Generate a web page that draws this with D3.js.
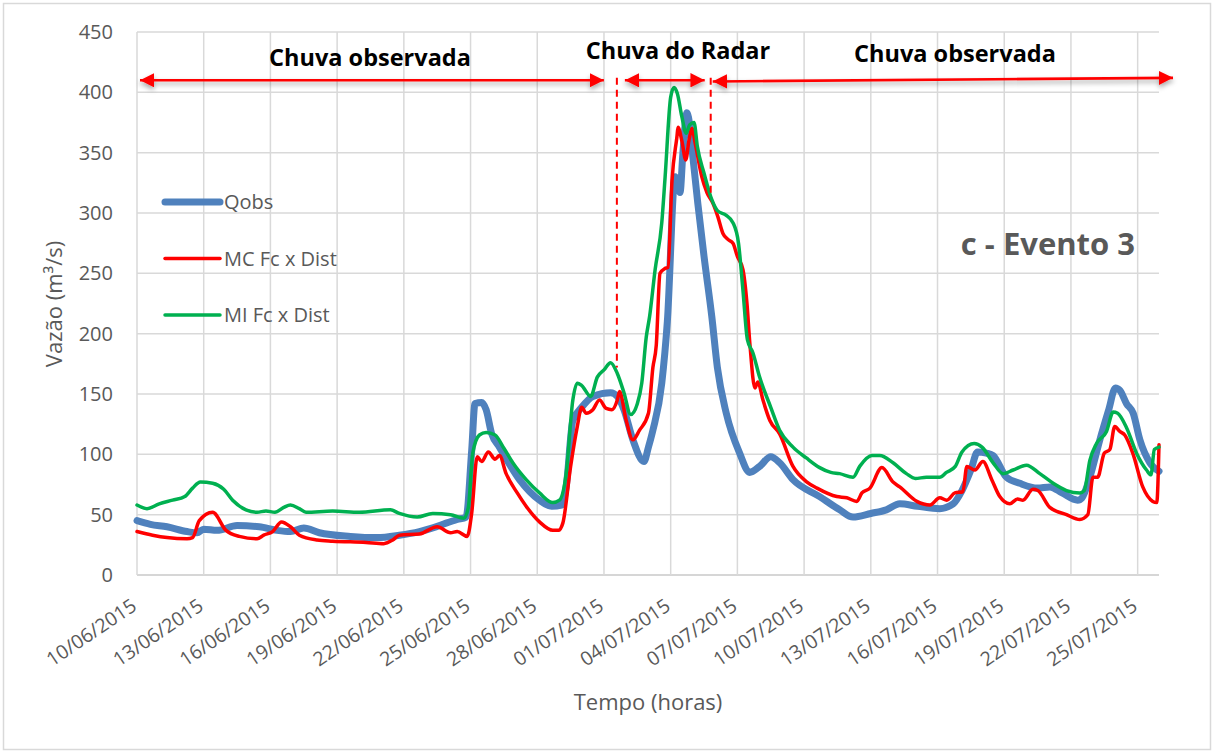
<!DOCTYPE html>
<html lang="pt">
<head>
<meta charset="UTF-8">
<title>Evento 3</title>
<script src="https://d3js.org/d3.v7.min.js"></script>
<style>
  body { margin: 0; background: #fff; }
  svg text { font-family: "Open Sans", sans-serif; }
</style>
</head>
<body>
<div id="chart"></div>
<script>
// dias desde 10/06/2015 00:00, vazão (m3/s)
var qobs = [[0,45],[0.6,42],[1.35,40],[2.25,36],[2.7,35],[3.0,38],[3.6,37],[4.5,41],[5.5,40],[6.3,37],[6.9,36],[7.5,39],[8.2,35],[9.6,32],[10.8,31],[11.8,33],[12.7,36],[13.3,39],[13.9,43],[14.4,46],[14.8,48],[15.05,103],[15.2,142],[15.5,143],[15.7,137],[15.95,117],[16.3,106],[17.2,79],[18.1,62],[18.65,57],[19.1,58],[19.3,73],[19.6,128],[20.0,139],[20.5,148],[21.3,151],[21.6,148],[21.9,137],[22.3,112],[22.8,94],[23.0,106],[23.2,120],[23.6,159],[23.85,210],[24.2,330],[24.42,317],[24.55,350],[24.73,383],[24.87,371],[25.0,346],[25.22,308],[25.5,264],[25.85,214],[26.1,172],[26.5,134],[27.1,101],[27.55,85],[28.0,90],[28.5,98],[28.9,93],[29.5,79],[30.7,65],[31.6,54],[32.2,48],[33.0,51],[33.7,54],[34.3,59],[35.1,57],[36.1,55],[36.7,59],[37.1,70],[37.5,87],[37.8,102],[38.2,101],[38.5,99],[39.1,81],[39.7,76],[40.5,72],[41.05,73],[41.6,68],[42.3,62],[42.5,64],[42.85,81],[43.3,112],[43.7,137],[44.0,155],[44.2,153],[44.5,142],[44.8,134],[45.1,112],[45.55,93],[45.96,86]];

var mcFc = [[0,36],[0.7,33],[1.35,31],[2.25,30],[2.5,31],[2.8,45],[3.4,52],[4.0,37],[4.6,32],[5.4,30],[5.7,33],[6.1,36],[6.5,44],[6.9,40],[7.3,33],[8.1,29],[8.8,28],[10.3,27],[11.1,26],[11.5,29],[11.8,33],[12.7,34],[13.5,40],[14.1,35],[14.4,36],[14.85,32],[15.05,51],[15.3,98],[15.5,94],[15.8,102],[16.1,96],[16.3,99],[16.6,84],[17.1,68],[17.5,57],[18.1,44],[18.7,37],[18.95,37],[19.15,43],[19.5,90],[19.8,123],[20.0,139],[20.2,134],[20.5,137],[20.8,145],[21.1,138],[21.35,137],[21.6,145],[21.7,152],[22.0,128],[22.3,112],[22.6,120],[23.0,134],[23.2,172],[23.35,190],[23.52,250],[23.74,254],[23.88,255],[24.06,327],[24.28,363],[24.33,371],[24.5,360],[24.68,344],[24.82,360],[24.96,370],[25.1,358],[25.4,330],[25.63,317],[25.9,308],[26.12,297],[26.35,283],[26.58,278],[26.8,275],[27.0,264],[27.25,253],[27.43,225],[27.56,192],[27.79,155],[27.92,160],[28.15,145],[28.46,128],[28.9,117],[29.5,90],[30.13,77],[30.58,72],[31.47,65],[31.92,64],[32.37,61],[32.6,68],[32.96,72],[33.5,89],[34.0,77],[34.3,73],[35.07,61],[35.66,58],[36.1,64],[36.42,62],[36.78,68],[37.14,69],[37.32,90],[37.68,87],[38.04,94],[38.44,79],[38.8,65],[39.25,59],[39.6,63],[39.84,62],[40.29,71],[40.51,70],[41.05,56],[41.8,50],[42.4,46],[42.76,50],[42.99,81],[43.2,81],[43.5,101],[43.75,104],[43.97,123],[44.2,119],[44.42,116],[44.78,101],[45.23,73],[45.68,61],[45.86,60],[45.96,108]];

var miFc = [[0,58],[0.45,55],[1.0,59],[1.6,62],[2.15,65],[2.5,72],[2.85,77],[3.4,76],[3.9,71],[4.3,62],[4.9,54],[5.4,52],[5.8,53],[6.2,52],[6.6,56],[6.9,58],[7.3,55],[7.6,52],[8.8,53],[10.0,52],[11.4,54],[11.8,51],[12.6,48],[13.3,51],[14.1,50],[14.7,47],[14.9,56],[15.1,101],[15.4,116],[15.7,118],[16.1,116],[16.5,105],[16.9,93],[17.5,79],[18.1,68],[18.7,60],[19.0,62],[19.3,84],[19.6,145],[19.8,159],[20.0,157],[20.4,148],[20.7,164],[21.0,170],[21.3,176],[21.6,167],[21.9,151],[22.2,133],[22.5,142],[22.7,159],[22.9,197],[23.05,214],[23.3,253],[23.6,292],[23.75,330],[24.0,396],[24.15,404],[24.3,399],[24.5,380],[24.7,366],[24.85,373],[25.05,375],[25.2,355],[25.5,333],[25.85,311],[26.1,302],[26.5,298],[26.8,292],[27.05,275],[27.25,236],[27.45,195],[27.7,184],[28.0,164],[28.5,139],[28.9,120],[29.5,106],[30.1,97],[30.7,89],[31.2,85],[31.6,84],[32.2,81],[32.5,90],[33.05,99],[33.4,99],[34.0,93],[34.6,84],[35.0,80],[35.5,81],[36.1,81],[36.4,85],[36.8,90],[37.1,102],[37.65,109],[38.0,106],[38.5,93],[38.95,84],[39.4,87],[40.0,91],[40.6,84],[41.2,76],[41.8,70],[42.4,68],[42.6,70],[42.85,95],[43.15,109],[43.6,119],[43.9,135],[44.1,134],[44.5,122],[44.95,101],[45.4,87],[45.6,83],[45.75,104],[45.96,106]];

var yTicks = [0, 50, 100, 150, 200, 250, 300, 350, 400, 450];
var tickStepDays = 3;
var endDays = 45.96;
var radarStart = 21.58, radarEnd = 25.8;   // período com chuva do radar (dias)

var series = [
  {name: "Qobs", data: qobs, color: "#4f81bd", width: 7},
  {name: "MC Fc x Dist", data: mcFc, color: "#ff0000", width: 3.5},
  {name: "MI Fc x Dist", data: miFc, color: "#00b050", width: 3.5}
];

var W = 1214, H = 751;
var margin = {top: 32, right: 55, bottom: 176, left: 137};
var width = W - margin.left - margin.right,
    height = H - margin.top - margin.bottom;

var t0 = new Date(2015, 5, 10);
var day = function(d) { return new Date(t0.getTime() + d * 864e5); };

var x = d3.scaleTime().domain([t0, day(endDays)]).range([0, width]);
var y = d3.scaleLinear().domain([0, 450]).range([height, 0]);

var svg = d3.select("#chart").append("svg")
    .attr("width", W).attr("height", H);

var defs = svg.append("defs");
var f = defs.append("filter").attr("id", "shadow")
    .attr("filterUnits", "userSpaceOnUse")
    .attr("x", -200).attr("y", -200).attr("width", W + 400).attr("height", H + 400);
f.append("feDropShadow").attr("dx", 0).attr("dy", 3).attr("stdDeviation", 2.5)
    .attr("flood-color", "#000").attr("flood-opacity", 0.35);
defs.append("marker").attr("id", "head")
    .attr("viewBox", "0 0 10 10").attr("refX", 10).attr("refY", 5)
    .attr("markerWidth", 5.5).attr("markerHeight", 5.5)
    .attr("markerUnits", "strokeWidth").attr("orient", "auto-start-reverse")
    .append("path").attr("d", "M0,0 L10,5 L0,10 z").attr("fill", "#ff0000");

svg.append("rect").attr("x", 3.5).attr("y", 3.5).attr("width", W - 7).attr("height", H - 5)
    .attr("fill", "#fff").attr("stroke", "#d9d9d9").attr("stroke-width", 1.5);

var g = svg.append("g").attr("transform", "translate(" + margin.left + "," + margin.top + ")");

// ticks de 3 em 3 dias
var xTicks = d3.range(0, endDays, tickStepDays).map(day);

g.append("g").selectAll("line").data(yTicks).enter().append("line")
    .attr("x1", 0).attr("x2", width)
    .attr("y1", function(d) { return y(d); }).attr("y2", function(d) { return y(d); })
    .attr("stroke", function(d) { return d === 0 ? "#c8c8c8" : "#d9d9d9"; })
    .attr("stroke-width", 1.5);

g.append("g").selectAll("line").data(xTicks).enter().append("line")
    .attr("x1", function(d) { return x(d); }).attr("x2", function(d) { return x(d); })
    .attr("y1", 0).attr("y2", height)
    .attr("stroke", "#d9d9d9").attr("stroke-width", 1.5);

// eixo y
var yAxis = g.append("g").call(d3.axisLeft(y).tickValues(yTicks).tickSize(0).tickPadding(24));
yAxis.select(".domain").remove();
yAxis.selectAll("text").attr("font-size", 20).attr("fill", "#595959")
    .style("font-family", "'Open Sans', sans-serif");

// eixo x
var fmt = d3.timeFormat("%d/%m/%Y");
g.append("g").attr("transform", "translate(0," + height + ")")
  .selectAll("text").data(xTicks).enter().append("text")
    .attr("transform", function(d) { return "translate(" + (x(d) + 1) + ",34) rotate(-34)"; })
    .attr("text-anchor", "end")
    .attr("font-size", 19.5).attr("fill", "#595959")
    .text(function(d) { return fmt(d); });

// séries
var line = d3.line()
    .x(function(d) { return x(day(d[0])); })
    .y(function(d) { return y(d[1]); })
    .curve(d3.curveMonotoneX);

series.forEach(function(s) {
  g.append("path").datum(s.data)
    .attr("fill", "none").attr("stroke", s.color)
    .attr("stroke-width", s.width).attr("stroke-linejoin", "round").attr("stroke-linecap", "round")
    .attr("d", line);
});

// anotações
var ann = g.append("g");
function arrow(x1, x2, v1, v2) {
  ann.append("line")
    .attr("x1", x1).attr("x2", x2).attr("y1", y(v1)).attr("y2", y(v2))
    .attr("stroke", "#ff0000").attr("stroke-width", 2.6)
    .attr("marker-start", "url(#head)").attr("marker-end", "url(#head)")
    .attr("filter", "url(#shadow)");
}
arrow(3, x(day(radarStart)) - 13, 410, 410);
arrow(x(day(radarStart)) + 8, x(day(radarEnd)) - 6, 410, 410);
arrow(x(day(radarEnd)) + 2, width + 14, 409, 412);

ann.append("line").attr("x1", x(day(radarStart))).attr("x2", x(day(radarStart)))
    .attr("y1", y(412)).attr("y2", y(172))
    .attr("stroke", "#ff0000").attr("stroke-width", 2).attr("stroke-dasharray", "7,5");
ann.append("line").attr("x1", x(day(radarEnd))).attr("x2", x(day(radarEnd)))
    .attr("y1", y(412)).attr("y2", y(316))
    .attr("stroke", "#ff0000").attr("stroke-width", 2).attr("stroke-dasharray", "7,5");

svg.append("text").attr("x", 370).attr("y", 66).attr("text-anchor", "middle")
    .attr("font-size", 23.5).attr("font-weight", "bold").attr("fill", "#000").text("Chuva observada");
svg.append("text").attr("x", 678).attr("y", 59).attr("text-anchor", "middle")
    .attr("font-size", 23.5).attr("font-weight", "bold").attr("fill", "#000").text("Chuva do Radar");
svg.append("text").attr("x", 955).attr("y", 62).attr("text-anchor", "middle")
    .attr("font-size", 23.5).attr("font-weight", "bold").attr("fill", "#000").text("Chuva observada");

svg.append("text").attr("x", 1135).attr("y", 255).attr("text-anchor", "end")
    .attr("font-size", 31).attr("font-weight", "bold").attr("fill", "#595959").text("c - Evento 3");

// legenda
var leg = svg.append("g");
series.forEach(function(s, i) {
  var ly = 202 + i * 56.5;
  leg.append("line").attr("x1", 165).attr("x2", 220).attr("y1", ly).attr("y2", ly)
    .attr("stroke", s.color).attr("stroke-width", s.width).attr("stroke-linecap", "round");
  leg.append("text").attr("x", 224).attr("y", ly + 7).attr("font-size", 20)
    .attr("fill", "#595959").text(s.name);
});

// títulos dos eixos
svg.append("text").attr("transform", "translate(62,304) rotate(-90)")
    .attr("text-anchor", "middle").attr("font-size", 22).attr("fill", "#595959")
    .text("Vazão (m³/s)");
svg.append("text").attr("x", 648).attr("y", 710).attr("text-anchor", "middle")
    .attr("font-size", 22).attr("fill", "#595959").text("Tempo (horas)");
</script>
</body>
</html>
